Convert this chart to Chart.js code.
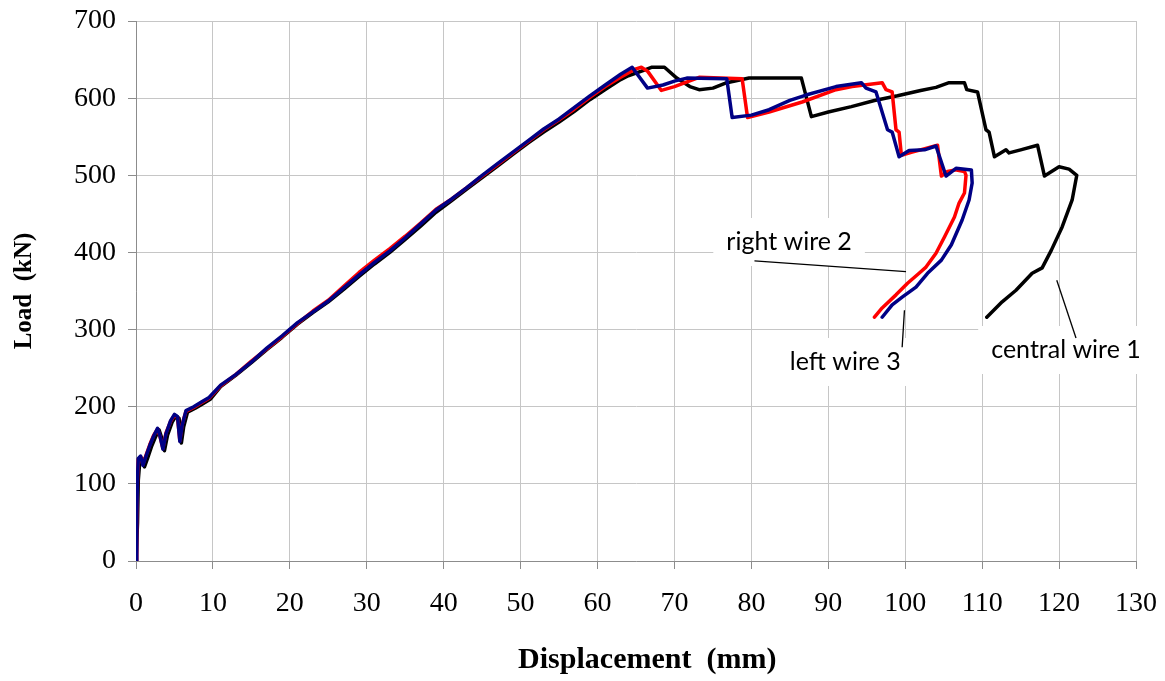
<!DOCTYPE html>
<html>
<head>
<meta charset="utf-8">
<script src="https://cdn.jsdelivr.net/npm/chart.js@4"></script>
<style>
html,body{margin:0;padding:0;background:#fff;}
#wrap{width:1165px;height:681px;position:relative;}
</style>
</head>
<body>
<div id="wrap"><canvas id="c" width="1165" height="681"></canvas></div>
<script>
// ---- data (displacement mm / load kN) ----
const xTicks = [0,10,20,30,40,50,60,70,80,90,100,110,120,130];
const yTicks = [0,100,200,300,400,500,600,700];

const centralX = [0,0.2,0.3,0.5,0.8,1.1,1.5,2.0,2.5,3.0,3.3,3.7,4.1,4.7,5.2,5.6,5.9,6.2,6.7,7.7,8.7,9.7,11,13,15,17,19,21,23,25,27,29,31,33,35,37,39,41,43,45,47,49,51,53,55,57,59,61,63,64,66,67,68.7,70.3,72,73.2,75,76.8,79.7,86.5,87.8,90,93,96,99,102,104,105.7,107.7,108,109.4,110.5,110.9,111.6,113.1,113.5,115,117.2,118.1,120,121.3,122.3,121.7,120.4,119,117.8,116.5,114.4,112.6,110.6];
const centralY = [0,50,105,130,133,122,133,148,160,170,161,143,163,180,188,185,153,174,193,198,204,210,226,241,257,274,290,307,322,336,352,369,385,400,417,434,452,467,482,497,512,527,542,556,569,583,598,611,624,629,636,640,640,626,615,611,613,620,626,626,576,582,589,597,603,610,614,620,620,611,608,559,556,524,533,529,533,539,499,511,508,500,468,433,403,380,373,351,336,316];

const rightX = [0,0.1,0.2,0.3,0.6,0.9,1.3,1.8,2.3,2.8,3.1,3.5,3.9,4.5,5.0,5.4,5.7,6.0,6.5,7.5,8.5,9.5,11,13,15,17,19,21,23,25,27,29,31,33,35,37,39,41,43,45,47,49,51,53,55,57,59,61,63,65,65.7,66.5,68.3,70,73.2,78.8,79.5,82.3,86.6,91,93.1,97,97.5,98.3,98.8,99.2,99.5,100.9,104.2,104.7,105.5,106.5,107.7,107.9,107.7,107,106.4,105.1,104,102.7,101.8,100.3,98.8,97,96];
const rightY = [0,55,108,132,135,125,137,151,163,171,162,146,166,181,189,186,156,177,194,199,205,211,227,242,259,275,291,308,324,338,356,374,390,405,421,438,456,469,484,499,514,529,544,559,572,586,601,615,627,638,640,635,610,615,627,625,575,582,595,611,615,620,611,608,559,556,526,530,539,499,505,507,505,500,477,464,446,420,399,381,373,360,345,328,316];

const leftX = [0,0.1,0.2,0.3,0.6,0.9,1.3,1.8,2.3,2.8,3.1,3.5,3.9,4.5,5.0,5.4,5.7,6.0,6.5,7.5,8.5,9.5,11,13,15,17,19,21,23,25,27,29,31,33,35,37,39,41,43,45,47,49,51,53,55,57,59,61,63,64.5,66.5,68.5,70,71.6,76.8,77.5,80,82.3,85,87.1,91,94.3,94.9,96.2,97.7,98.3,99.2,100.5,102.5,104,105.3,106.6,108.6,108.7,108.3,107.4,106,104.7,102.9,101.4,99.6,98.3,97];
const leftY = [0,60,110,133,136,124,136,150,162,172,163,145,165,182,190,187,155,176,195,200,206,212,228,242,258,276,292,309,323,337,354,371,387,402,419,437,455,469,484,500,515,530,545,560,573,588,603,617,631,640,613,617,622,626,625,575,578,585,597,604,615,620,613,608,559,556,524,532,533,538,499,509,507,490,468,442,410,390,373,355,342,332,316];

// annotation labels (data coordinates)
const labelTexts = ['right wire 2','left wire 3','central wire 1'];
const labelX = [84.9, 92.2, 120.9];
const labelY = [413.5, 258, 273.5];
const leaderX1 = [80.4, 99.9, 119.7];
const leaderY1 = [389, 325, 364];
const leaderX2 = [100.1, 99.6, 122.2];
const leaderY2 = [375, 277, 289];

function pts(xs, ys){ return xs.map((x,i)=>({x:x, y:ys[i]})); }

const annotate = {
  id:'annotate',
  afterDatasetsDraw(chart){
    const ctx = chart.ctx, xs = chart.scales.x, ys = chart.scales.y;
    ctx.save();
    ctx.font = '25px Lato, "Open Sans", sans-serif';
    ctx.textAlign = 'center';
    ctx.textBaseline = 'middle';
    labelTexts.forEach((t,i)=>{
      const cx = xs.getPixelForValue(labelX[i]), cy = ys.getPixelForValue(labelY[i]);
      const w = ctx.measureText(t).width + 26, h = 48;
      ctx.fillStyle = '#ffffff';
      ctx.fillRect(cx - w/2, cy - h/2, w, h);
    });
    ctx.strokeStyle = '#000';
    ctx.lineWidth = 1.3;
    labelTexts.forEach((t,i)=>{
      ctx.beginPath();
      ctx.moveTo(xs.getPixelForValue(leaderX1[i]), ys.getPixelForValue(leaderY1[i]));
      ctx.lineTo(xs.getPixelForValue(leaderX2[i]), ys.getPixelForValue(leaderY2[i]));
      ctx.stroke();
    });
    ctx.fillStyle = '#000';
    labelTexts.forEach((t,i)=>{
      ctx.fillText(t, xs.getPixelForValue(labelX[i]), ys.getPixelForValue(labelY[i]));
    });
    ctx.restore();
  }
};

const lineDs = (label, xs, ys, color) => ({
  label, data: pts(xs, ys), borderColor: color, backgroundColor: color,
  borderWidth: 3.5, pointRadius: 0, showLine: true, tension: 0, fill: false,
  borderJoinStyle: 'round', borderCapStyle: 'round'
});

const serif = '"Liberation Serif", "Times New Roman", serif';

new Chart(document.getElementById('c'), {
  type: 'scatter',
  data: {
    datasets: [
      lineDs('left wire 3', leftX, leftY, '#000085'),
      lineDs('right wire 2', rightX, rightY, '#ff0000'),
      lineDs('central wire 1', centralX, centralY, '#000000')
    ]
  },
  options: {
    responsive: false,
    animation: false,
    layout: { autoPadding: false, padding: { top: 21, right: 29, left: 0, bottom: 0 } },
    plugins: { legend: { display: false }, tooltip: { enabled: false } },
    scales: {
      x: {
        type: 'linear', min: 0, max: 130,
        afterBuildTicks: s => { s.ticks = xTicks.map(v => ({value: v})); },
        afterFit: s => { s.height = 120; s.paddingLeft = 0; s.paddingRight = 0; },
        grid: { color: '#c6c6c6', tickColor: '#8c8c8c', tickLength: 8, lineWidth: 1 },
        border: { color: '#8c8c8c', width: 1 },
        ticks: { color: '#000', padding: 18, maxRotation: 0, autoSkip: false,
                 font: { family: serif, size: 28 } },
        title: { display: true, text: '   Displacement  (mm)', color: '#000',
                 padding: { top: 0, bottom: 3 },
                 font: { family: serif, size: 30, weight: 'bold' } }
      },
      y: {
        type: 'linear', min: 0, max: 700,
        afterBuildTicks: s => { s.ticks = yTicks.map(v => ({value: v})); },
        afterFit: s => { s.width = 136; s.paddingTop = 0; s.paddingBottom = 0; },
        grid: { color: '#c6c6c6', tickColor: '#8c8c8c', tickLength: 8, lineWidth: 1 },
        border: { color: '#8c8c8c', width: 1 },
        ticks: { color: '#000', padding: 12, autoSkip: false,
                 font: { family: serif, size: 28 } },
        title: { display: true, text: 'Load  (kN)', color: '#000',
                 padding: { top: 10, bottom: 0 },
                 font: { family: serif, size: 25, weight: 'bold' } }
      }
    }
  },
  plugins: [annotate]
});
</script>
</body>
</html>
